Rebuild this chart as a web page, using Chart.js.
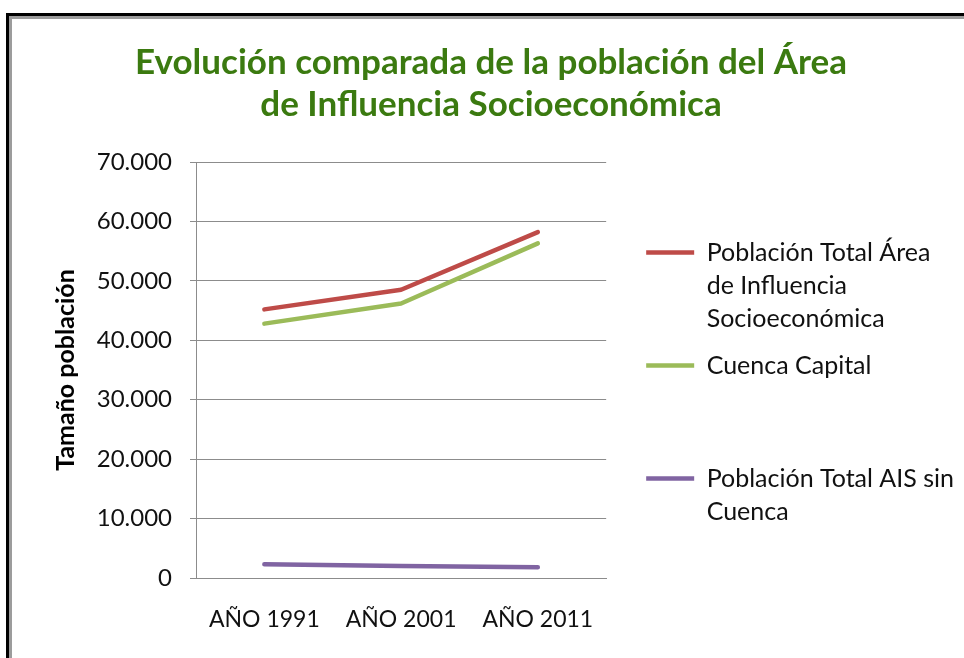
<!DOCTYPE html>
<html lang="es">
<head>
<meta charset="utf-8">
<title>Evolución comparada de la población</title>
<script src="https://cdn.jsdelivr.net/npm/chart.js@4.4.1/dist/chart.umd.min.js"></script>
<style>
  html, body {
    margin: 0;
    padding: 0;
    background: #ffffff;
    width: 964px;
    height: 658px;
    overflow: hidden;
  }
  .frame {
    position: absolute;
    left: 6px;
    top: 13px;
    width: 1100px;
    height: 800px;
    border-left: 3px solid #000000;
    border-top: 3px solid #000000;
    box-shadow: inset 3px 3px 0 #9c9c9c;
  }
  .chart-box {
    position: absolute;
    left: 0;
    top: 0;
    width: 964px;
    height: 658px;
  }
</style>
</head>
<body>
<div class="frame"></div>
<div class="chart-box">
  <canvas id="poblacionChart" width="964" height="658"></canvas>
</div>
<script>
const categories = ["AÑO 1991", "AÑO 2001", "AÑO 2011"];
const poblacionTotalArea = [45200, 48500, 58200];
const cuencaCapital = [42800, 46200, 56300];
const aisSinCuenca = [2300, 2000, 1800];

const seriesLabels = [
  ["Población Total Área", "de Influencia", "Socioeconómica"],
  ["Cuenca Capital", "", ""],
  ["Población Total AIS sin", "Cuenca", ""]
];
const yTickValues = [0, 10000, 20000, 30000, 40000, 50000, 60000, 70000];
const yTickLabels = ["0", "10.000", "20.000", "30.000", "40.000", "50.000", "60.000", "70.000"];
const titleLines = ["Evolución comparada de la población del Área", "de Influencia Socioeconómica"];

const fontFamily = "Lato, 'Open Sans', sans-serif";
const gridColor = "#8c8c8c";

function makeDataset(label, data, color) {
  return {
    label: label,
    data: data,
    borderColor: color,
    backgroundColor: color,
    borderWidth: 4.5,
    borderCapStyle: "round",
    borderJoinStyle: "round",
    pointRadius: 0,
    pointHoverRadius: 0,
    tension: 0,
    pointStyle: "line"
  };
}

const ctx = document.getElementById("poblacionChart").getContext("2d");

new Chart(ctx, {
  type: "line",
  data: {
    labels: categories,
    datasets: [
      makeDataset(seriesLabels[0], poblacionTotalArea, "#be4b48"),
      makeDataset(seriesLabels[1], cuencaCapital, "#9bbb59"),
      makeDataset(seriesLabels[2], aisSinCuenca, "#8064a2")
    ]
  },
  options: {
    responsive: false,
    animation: false,
    devicePixelRatio: 1,
    layout: {
      padding: { left: 18, right: 0, top: 0, bottom: 0 }
    },
    plugins: {
      title: {
        display: true,
        text: titleLines,
        color: "#3b7a10",
        font: { family: fontFamily, size: 35, weight: "bold", lineHeight: "42px" },
        padding: { top: 42, bottom: 36 }
      },
      legend: {
        display: true,
        position: "right",
        align: "start",
        maxWidth: 333,
        title: {
          display: true,
          text: " ",
          font: { family: fontFamily, size: 10, lineHeight: "10px" },
          padding: { top: 216, bottom: 0 }
        },
        labels: {
          usePointStyle: true,
          pointStyleWidth: 48,
          boxHeight: 4,
          padding: 14,
          color: "#111111",
          font: { family: fontFamily, size: 25, lineHeight: "33px" }
        }
      },
      tooltip: { enabled: false }
    },
    scales: {
      x: {
        type: "category",
        offset: true,
        grid: { display: false, drawTicks: false },
        border: { display: true, color: gridColor, width: 1 },
        ticks: {
          color: "#111111",
          padding: 28,
          maxRotation: 0,
          font: { family: fontFamily, size: 23 }
        },
        afterFit: function (scale) {
          scale.height = 80;
        }
      },
      y: {
        type: "linear",
        position: "left",
        min: 0,
        max: 70000,
        afterBuildTicks: function (scale) {
          scale.ticks = yTickValues.map(function (v) { return { value: v }; });
        },
        grid: { color: gridColor, lineWidth: 1, drawTicks: true, tickLength: 6 },
        border: { display: true, color: gridColor, width: 1 },
        ticks: {
          color: "#111111",
          padding: 18,
          font: { family: fontFamily, size: 24 },
          callback: function (value) {
            const i = yTickValues.indexOf(value);
            return i >= 0 ? yTickLabels[i] : "";
          }
        },
        title: {
          display: true,
          text: "Tamaño población",
          color: "#000000",
          font: { family: fontFamily, size: 25, weight: "bold" },
          padding: { top: 33, bottom: 0 }
        },
        afterFit: function (scale) {
          scale.width = 178;
        }
      },
      legendGap: {
        type: "linear",
        position: "right",
        display: true,
        grid: { display: false },
        border: { display: false },
        ticks: { display: false },
        afterFit: function (scale) {
          scale.width = 26;
        }
      }
    }
  }
});
</script>
</body>
</html>
